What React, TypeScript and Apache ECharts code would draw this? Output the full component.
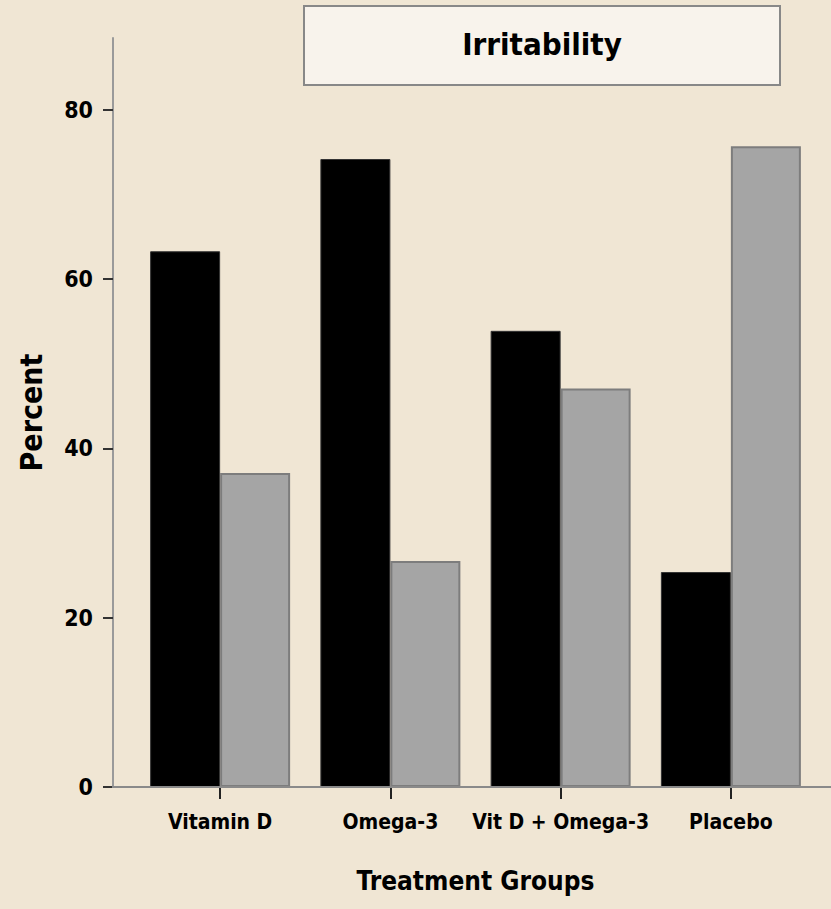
import React, { useEffect, useRef } from "react";
import * as echarts from "echarts";

const categories = ["Vitamin D", "Omega-3", "Vit D + Omega-3", "Placebo"];
const blackValues = [63.3, 74.2, 53.9, 25.4];
const grayValues = [37.1, 26.7, 47.1, 75.7];
const yTicks = [0, 20, 40, 60, 80];
const titleText = "Irritability";
const xName = "Treatment Groups";
const yName = "Percent";

const FONT = "'DejaVu Sans Condensed', 'Liberation Sans Narrow', sans-serif";

export default function App() {
  const ref = useRef<HTMLDivElement>(null);
  useEffect(() => {
    if (!ref.current) return;
    const chart = echarts.init(ref.current, null, { renderer: "svg" });
    chart.setOption({
      animation: false,
      backgroundColor: "#f0e6d4",
      title: {
        text: titleText,
        left: 542,
        top: 28,
        padding: 0,
        textAlign: "center",
        textStyle: { fontFamily: FONT, fontSize: 31, fontWeight: "bold", color: "#000" },
      },
      graphic: [
        {
          type: "rect",
          z: -1,
          shape: { x: 304, y: 6, width: 476, height: 79 },
          style: { fill: "#f8f3ec", stroke: "#888", lineWidth: 2 },
        },
        {
          type: "line",
          z: 10,
          shape: { x1: 112, y1: 787, x2: 831, y2: 787 },
          style: { stroke: "#8a8a8a", lineWidth: 2 },
        },
      ],
      grid: { left: 135, right: 15, top: 38, bottom: 122, containLabel: false, outerBoundsMode: "none" },
      xAxis: {
        type: "category",
        data: categories,
        name: xName,
        nameLocation: "middle",
        nameGap: 81,
        nameTextStyle: { fontFamily: FONT, fontSize: 26, fontWeight: "bold", color: "#000" },
        axisLine: { show: false },
        axisTick: { show: true, alignWithLabel: true, length: 12, lineStyle: { color: "#222", width: 2 } },
        axisLabel: { interval: 0, fontFamily: FONT, fontSize: 21, fontWeight: "bold", color: "#000", margin: 24 },
      },
      yAxis: {
        type: "value",
        min: 0,
        max: 88.5,
        interval: 20,
        offset: 22,
        name: yName,
        nameLocation: "middle",
        nameGap: 67,
        nameRotate: 90,
        nameTextStyle: { fontFamily: FONT, fontSize: 30, fontWeight: "bold", color: "#000" },
        splitLine: { show: false },
        axisLine: { show: true, lineStyle: { color: "#9a9a9a", width: 2 } },
        axisTick: { show: true, length: 10, customValues: yTicks, lineStyle: { color: "#333", width: 2 } },
        axisLabel: { fontFamily: FONT, fontSize: 23, fontWeight: "bold", color: "#000", margin: 20, customValues: yTicks },
      },
      series: [
        {
          type: "bar",
          data: blackValues,
          barWidth: 70,
          barGap: "0%",
          itemStyle: { color: "#000", borderColor: "#333", borderWidth: 1 },
        },
        {
          type: "bar",
          data: grayValues,
          barWidth: 70,
          itemStyle: { color: "#a5a5a5", borderColor: "#7d7d7d", borderWidth: 2 },
        },
      ],
    });
    return () => chart.dispose();
  }, []);
  return <div ref={ref} style={{ position: "fixed", left: 0, top: 0, width: 831, height: 909 }} />;
}
